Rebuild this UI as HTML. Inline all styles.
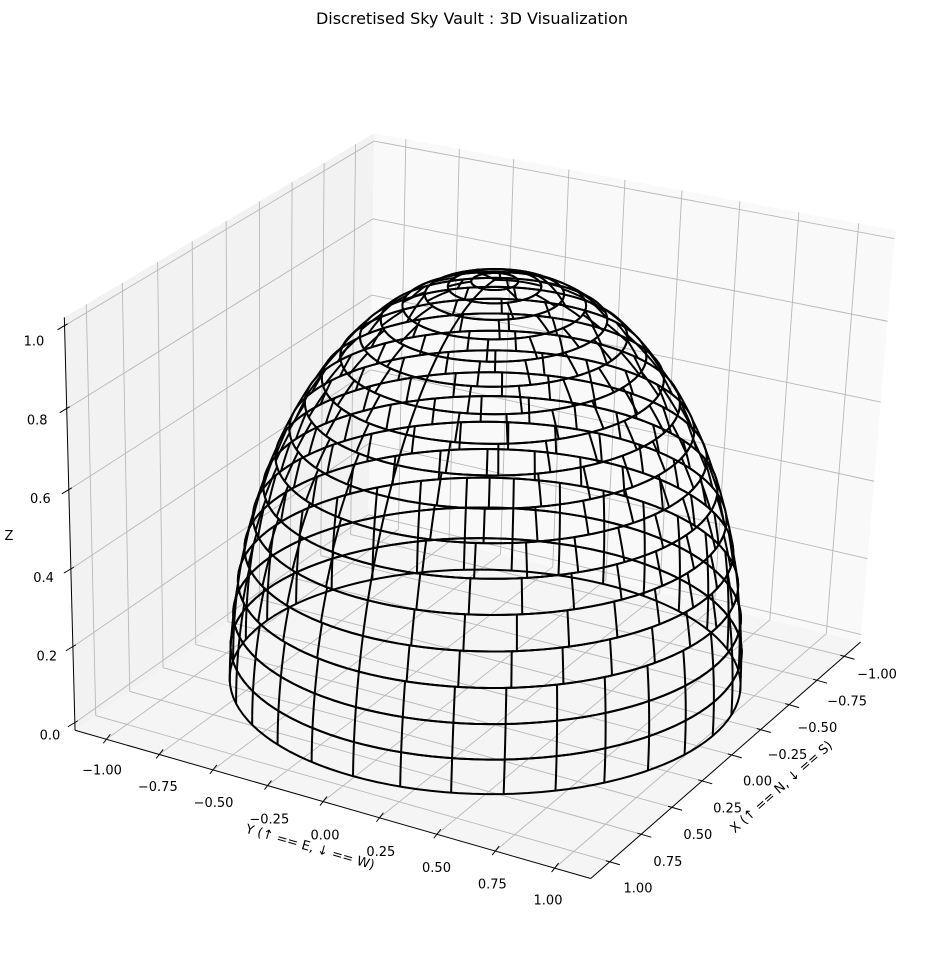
<!DOCTYPE html>
<html><head><meta charset="utf-8"><title>Discretised Sky Vault : 3D Visualization</title>
<style>
html,body{margin:0;padding:0;background:#fff;}
svg{display:block;font-family:"DejaVu Sans","Liberation Sans",sans-serif;}
</style></head>
<body>
<svg id="chart" width="944" height="966" viewBox="0 0 944 966" xmlns="http://www.w3.org/2000/svg">
<rect x="0" y="0" width="944" height="966" fill="#ffffff"/>
<text x="472" y="24" font-size="16" text-anchor="middle" fill="#000">Discretised Sky Vault : 3D Visualization</text>
<g id="panes"></g>
<g id="grid"></g>
<g id="axes"></g>
<g id="dome"></g>
<g id="labels"></g>
<text x="9" y="540" font-size="13" text-anchor="middle" fill="#000">Z</text>
<text x="0" y="0" font-size="13" text-anchor="middle" fill="#000" transform="translate(309,851) rotate(16)">Y (↑ == E, ↓ == W)</text>
<text x="0" y="0" font-size="13" text-anchor="middle" fill="#000" transform="translate(784,790) rotate(-41.5)">X (↑ == N, ↓ == S)</text>
</svg>
<script>
// ---- data ----
const bandAltitudes = [0,5,10,15,20,25,30,35,40,45,50,55,60,65,70,75,80,85];
const bandCounts = [32,32,32,31,30,29,28,26,25,23,21,18,16,14,11,8,6,3];
const bandHeight = 5;
const xTicks = [-1,-0.75,-0.5,-0.25,0,0.25,0.5,0.75,1];
const yTicks = [-1,-0.75,-0.5,-0.25,0,0.25,0.5,0.75,1];
const zTicks = [0,0.2,0.4,0.6,0.8,1.0];
const xTickLabels = ["−1.00","−0.75","−0.50","−0.25","0.00","0.25","0.50","0.75","1.00"];
const yTickLabels = ["−1.00","−0.75","−0.50","−0.25","0.00","0.25","0.50","0.75","1.00"];
const zTickLabels = ["0.0","0.2","0.4","0.6","0.8","1.0"];

// ---- projection (fitted camera) ----
const A = 1.15, Z0 = -0.02, Z1 = 1.02;
const corr = [
  [A,-A,Z0,77,730],[A,A,Z0,600,877],[A,A,Z0,600,877],[A,A,Z0,600,877],[-A,A,Z0,876,632],
  [A,-A,Z1,62,318],[-A,-A,Z1,382,127],[-A,A,Z1,890,233],
  [A,-1,Z0,107,739],[A,1,Z0,562,866],[-1,A,Z0,833,670],[1,A,Z0,619,860],
  [A,-A,0,77,727],[A,-A,1,62,327],
  [0.7071,0.7071,0,489,793],[0,0,1,485,284]
];
function solveDLT(pts){
  const rows=[],b=[];
  pts.forEach(p=>{const [X,Y,Z,u,v]=p;
    rows.push([X,Y,Z,1,0,0,0,0,-u*X,-u*Y,-u*Z]);b.push(u);
    rows.push([0,0,0,0,X,Y,Z,1,-v*X,-v*Y,-v*Z]);b.push(v);});
  const n=11,M=[];
  for(let i=0;i<n;i++){M.push(new Array(n+1).fill(0));
    for(let j=0;j<n;j++){let s=0;for(let k=0;k<rows.length;k++)s+=rows[k][i]*rows[k][j];M[i][j]=s;}
    let s=0;for(let k=0;k<rows.length;k++)s+=rows[k][i]*b[k];M[i][n]=s;}
  for(let c=0;c<n;c++){let piv=c;for(let r=c+1;r<n;r++)if(Math.abs(M[r][c])>Math.abs(M[piv][c]))piv=r;
    [M[c],M[piv]]=[M[piv],M[c]];
    for(let r=0;r<n;r++){if(r===c)continue;const f=M[r][c]/M[c][c];for(let k=c;k<=n;k++)M[r][k]-=f*M[c][k];}}
  return M.map((r,i)=>r[n]/r[i]);
}
const P = solveDLT(corr);
function proj(x,y,z){
  const w=P[8]*x+P[9]*y+P[10]*z+1;
  return [(P[0]*x+P[1]*y+P[2]*z+P[3])/w,(P[4]*x+P[5]*y+P[6]*z+P[7])/w];
}
// dome-specific screen correction
function projDome(x,y,z){const p=proj(x,y,z);return [484+(p[0]-472)*1.016,p[1]-2];}
// label axis functions (interpolating label anchors)
function lerp(a,b,t){return [a[0]+(b[0]-a[0])*t,a[1]+(b[1]-a[1])*t];}
function xLabelPos(v){return lerp([877,674],[638,888],(v+1)/2);}
function yLabelPos(v){return lerp([102,770],[548,900],(v+1)/2);}
function zLabelPos(v){return lerp([50,735],[34,341],v);}

const NS="http://www.w3.org/2000/svg";
function mk(tag,attrs,parent){const e=document.createElementNS(NS,tag);for(const k in attrs)e.setAttribute(k,attrs[k]);parent.appendChild(e);return e;}
function pts(list){return list.map(p=>p[0].toFixed(2)+","+p[1].toFixed(2)).join(" ");}

const gP=document.getElementById('panes'),gG=document.getElementById('grid'),gA=document.getElementById('axes'),gD=document.getElementById('dome'),gL=document.getElementById('labels');

// panes
const cL=proj(A,-A,Z0),cF=proj(A,A,Z0),cR=proj(-A,A,Z0),cB=proj(-A,-A,Z0);
const tL=proj(A,-A,Z1),tB=proj(-A,-A,Z1),tR=proj(-A,A,Z1);
let e;
e=mk('polygon',{points:pts([cL,cF,cR,cB]),fill:'#f5f5f5'},gP);


e=mk('polygon',{points:pts([cL,cB,tB,tL]),fill:'#f2f2f2'},gP);


e=mk('polygon',{points:pts([cB,cR,tR,tB]),fill:'#f9f9f9'},gP);



// grid lines
function gline(a,b,name){const l=mk('line',{x1:a[0],y1:a[1],x2:b[0],y2:b[1],stroke:'#b8b8b8','stroke-width':0.9},gG);
  
  }
xTicks.forEach(t=>{gline(proj(t,-A,Z0),proj(t,A,Z0),'floor-grid-x');gline(proj(t,-A,Z0),proj(t,-A,Z1),'left-pane-grid-x');});
yTicks.forEach(t=>{gline(proj(-A,t,Z0),proj(A,t,Z0),'floor-grid-y');gline(proj(-A,t,Z0),proj(-A,t,Z1),'right-pane-grid-y');});
zTicks.forEach(t=>{gline(proj(A,-A,t),proj(-A,-A,t),'left-pane-grid-z');gline(proj(-A,-A,t),proj(-A,A,t),'right-pane-grid-z');});

// axis lines
function aline(a,b,name){const l=mk('line',{x1:a[0],y1:a[1],x2:b[0],y2:b[1],stroke:'#000','stroke-width':1},gA);
  
  }
aline(cL,cF,'y-axis-line');aline(cF,cR,'x-axis-line');aline(cL,tL,'z-axis-line');
yTicks.forEach(t=>{const p=proj(A,t,Z0);aline([p[0]-3,p[1]+4],[p[0]+4,p[1]-5],'y-tick');});
xTicks.forEach(t=>{const p=proj(t,A,Z0);aline([p[0]-4,p[1]-1],[p[0]+10,p[1]+3],'x-tick');});
zTicks.forEach(t=>{const p=proj(A,-A,t);aline([p[0]-7,p[1]+4],[p[0]+3,p[1]-2],'z-tick');});

// tick labels
function tlabel(pos,txt,name){const t=mk('text',{x:pos[0].toFixed(1),y:(pos[1]+4.5).toFixed(1),'font-size':13,'text-anchor':'middle',fill:'#000'},gL);
  t.textContent=txt;
  
  }
xTicks.forEach((v,i)=>tlabel(xLabelPos(v),xTickLabels[i],'x-tick-label'));
yTicks.forEach((v,i)=>tlabel(yLabelPos(v),yTickLabels[i],'y-tick-label'));
zTicks.forEach((v,i)=>tlabel(zLabelPos(v),zTickLabels[i],'z-tick-label'));

// dome
const D=Math.PI/180;
function sph(alt,az){return projDome(Math.cos(alt*D)*Math.cos(az*D),Math.cos(alt*D)*Math.sin(az*D),Math.sin(alt*D));}
bandAltitudes.forEach((alt,i)=>{
  const n=bandCounts[i];
  const g=mk('g',{},gD);
  
  
  [alt,alt+bandHeight].forEach(h=>{
    if(h>=90)return;
    const ring=[];for(let a=0;a<=360;a+=3)ring.push(sph(h,a));
    const pl=mk('polyline',{points:pts(ring),fill:'none',stroke:'#000','stroke-width':2,'stroke-linejoin':'round'},g);
    
    
  });
  for(let k=0;k<n;k++){
    const az=k*360/n,seg=[];
    for(let s=0;s<=4;s++)seg.push(sph(alt+bandHeight*s/4,az));
    const pl=mk('polyline',{points:pts(seg),fill:'none',stroke:'#000','stroke-width':2},g);
    
    
  }
});
</script>
</body></html>
